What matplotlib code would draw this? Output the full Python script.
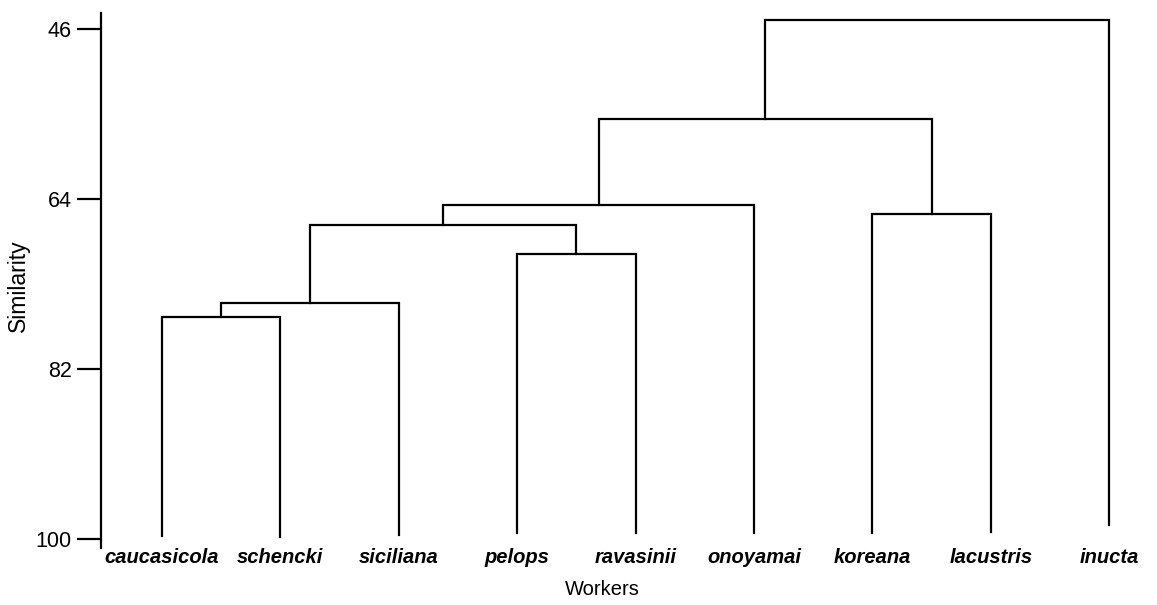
import matplotlib.pyplot as plt

# leaves of the dendrogram, left to right
species = ['caucasicola', 'schencki', 'siciliana', 'pelops', 'ravasinii',
           'onoyamai', 'koreana', 'lacustris', 'inucta']

# where each leaf line stops at the bottom
leaf_end = [99.7, 99.8, 99.6, 99.4, 99.4, 99.4, 99.4, 99.3, 98.6]

# merges: (left node, right node, similarity); nodes 9.. are the merged clusters
merge_left = [0, 9, 3, 10, 12, 6, 13, 15]
merge_right = [1, 2, 4, 11, 5, 7, 14, 8]
merge_level = [76.5, 75.0, 69.8, 66.8, 64.7, 65.6, 55.5, 45.0]

y_ticks = [46, 64, 82, 100]


def draw_dendrogram(ax):
    # x / top of each node, leaves first
    node_x = list(range(len(species)))
    node_y = list(leaf_end)
    for a, b, h in zip(merge_left, merge_right, merge_level):
        ax.plot([node_x[a], node_x[a], node_x[b], node_x[b]],
                [node_y[a], h, h, node_y[b]],
                color='black', lw=1.6, solid_joinstyle='miter')
        node_x.append((node_x[a] + node_x[b]) / 2)
        node_y.append(h)


fig = plt.figure(figsize=(11.57, 6.05), dpi=100)
ax = fig.add_axes([101 / 1157, 57 / 605, 1049 / 1157, 535 / 605])

draw_dendrogram(ax)

ax.set_xlim(-0.515, 8.345)
ax.set_ylim(101.0, 44.3)

for side in ['top', 'right', 'bottom']:
    ax.spines[side].set_visible(False)
ax.spines['left'].set_linewidth(1.6)

ax.set_yticks(y_ticks)
ax.set_yticklabels([str(t) for t in y_ticks], fontsize=15.5,
                   family='Liberation Sans')
ax.tick_params(axis='y', direction='out', length=17, width=1.6, pad=4)

ax.set_xticks(range(len(species)))
ax.set_xticklabels(species, fontsize=14.5, fontweight='bold', fontstyle='italic',
                   family='Liberation Sans')
ax.tick_params(axis='x', length=0, pad=0)

ax.set_ylabel('Similarity', fontsize=16.5, family='Liberation Sans')
ax.yaxis.set_label_coords(-0.068, 0.49)
ax.set_xlabel('Workers', fontsize=14.5, family='Liberation Sans')
ax.xaxis.set_label_coords(0.478, -0.06)

fig.savefig('out.png', dpi=100)
